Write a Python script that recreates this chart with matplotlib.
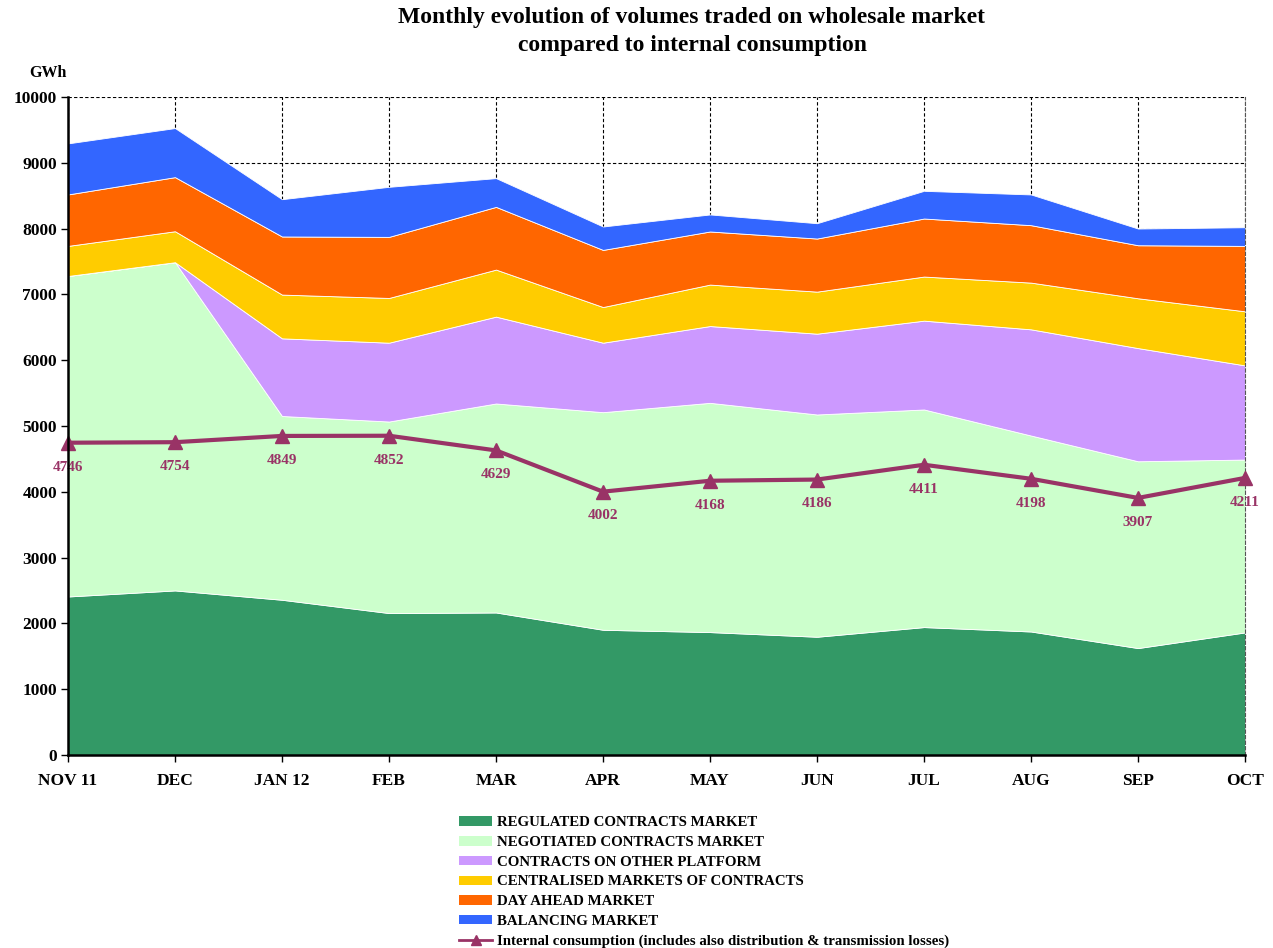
import matplotlib
matplotlib.use("Agg")
import matplotlib.pyplot as plt
from matplotlib.lines import Line2D
from matplotlib.patches import Patch
import numpy as np

plt.rcParams['font.family'] = ['Liberation Serif', 'DejaVu Serif']
plt.rcParams['font.weight'] = 'bold'

months = ["NOV 11", "DEC", "JAN 12", "FEB", "MAR", "APR", "MAY", "JUN", "JUL", "AUG", "SEP", "OCT"]

regulated = [2409, 2501, 2359, 2157, 2166, 1903, 1868, 1797, 1944, 1877, 1625, 1863]
negotiated_top = [7280, 7489, 5152, 5068, 5342, 5210, 5352, 5175, 5251, 4855, 4464, 4490]
other_top = [7280, 7489, 6332, 6266, 6662, 6266, 6519, 6403, 6601, 6469, 6184, 5921]
centralised_top = [7737, 7960, 6997, 6946, 7377, 6808, 7149, 7042, 7271, 7179, 6941, 6743]
dayahead_top = [8519, 8782, 7880, 7874, 8330, 7676, 7956, 7849, 8153, 8052, 7747, 7737]
balancing_top = [9295, 9528, 8447, 8635, 8767, 8032, 8215, 8082, 8574, 8519, 8001, 8021]

consumption = [4746, 4754, 4849, 4852, 4629, 4002, 4168, 4186, 4411, 4198, 3907, 4211]

series_names = ["REGULATED CONTRACTS MARKET", "NEGOTIATED CONTRACTS MARKET",
                "CONTRACTS ON OTHER PLATFORM", "CENTRALISED MARKETS OF CONTRACTS",
                "DAY AHEAD MARKET", "BALANCING MARKET"]
line_name = "Internal consumption (includes also distribution & transmission losses)"
colors = ["#339966", "#CCFFCC", "#CC99FF", "#FFCC00", "#FF6600", "#3366FF"]
line_color = "#993366"

tops = [regulated, negotiated_top, other_top, centralised_top, dayahead_top, balancing_top]
values = [np.array(tops[0])] + [np.array(tops[i]) - np.array(tops[i - 1]) for i in range(1, 6)]

fig = plt.figure(figsize=(12.73, 9.48), dpi=100)
ax = fig.add_axes([68/1273, 1 - 755/948, (1245 - 68)/1273, (755 - 97)/948])

x = np.arange(len(months))
ax.stackplot(x, *values, colors=colors, edgecolor='white', linewidth=0.6, zorder=2)

ax.plot(x, consumption, color=line_color, lw=3, marker='^', ms=10, zorder=4, clip_on=False)
for xi, v in zip(x, consumption):
    ax.annotate(str(v), (xi, v), xytext=(0, -17.5), textcoords='offset points',
                ha='center', va='center', color=line_color, fontsize=11,
                fontweight='bold', zorder=3, annotation_clip=False)

ax.set_xlim(0, len(months) - 1)
ax.set_ylim(0, 10000)
ax.set_yticks(np.arange(0, 10001, 1000))
ax.set_xticks(x)
ax.set_xticklabels(months)
ax.tick_params(axis='both', direction='out', length=5, width=1, labelsize=12.5)
ax.tick_params(axis='x', pad=8)
ax.tick_params(axis='y', pad=3)
ax.grid(True, color='black', linestyle=(0, (3, 2)), linewidth=0.8, zorder=0)
ax.set_axisbelow(True)
for lbl in ax.get_xticklabels() + ax.get_yticklabels():
    lbl.set_fontweight('bold')

ax.spines['left'].set_linewidth(1.8)
ax.spines['bottom'].set_linewidth(1.8)
ax.spines['top'].set_visible(False)
ax.spines['right'].set_linestyle((0, (3, 2)))
ax.spines['right'].set_linewidth(0.8)
ax.spines['right'].set_color('#555555')
for s in ['left', 'bottom']:
    ax.spines[s].set_zorder(5)

fig.text(48/1273, 1 - 73/948, "GWh", ha='center', va='center', fontsize=11.5, fontweight='bold')
fig.text(692/1273, 1 - 18/948, "Monthly evolution of volumes traded on wholesale market",
         ha='center', va='center', fontsize=17, fontweight='bold')
fig.text(692/1273, 1 - 45/948, "compared to internal consumption",
         ha='center', va='center', fontsize=17, fontweight='bold')

handles = [Patch(facecolor=c, edgecolor='none') for c in colors]
handles.append(Line2D([0], [0], color=line_color, lw=2, marker='^', ms=7))
labels = series_names + [line_name]
fig.legend(handles, labels, loc='upper left', bbox_to_anchor=(452/1273, 1 - 809/948),
           frameon=False, handlelength=2.2, handleheight=0.6,
           labelspacing=0.45, handletextpad=0.3, borderpad=0, prop={'weight': 'bold', 'size': 10.7})

fig.savefig("out.png", dpi=100)
